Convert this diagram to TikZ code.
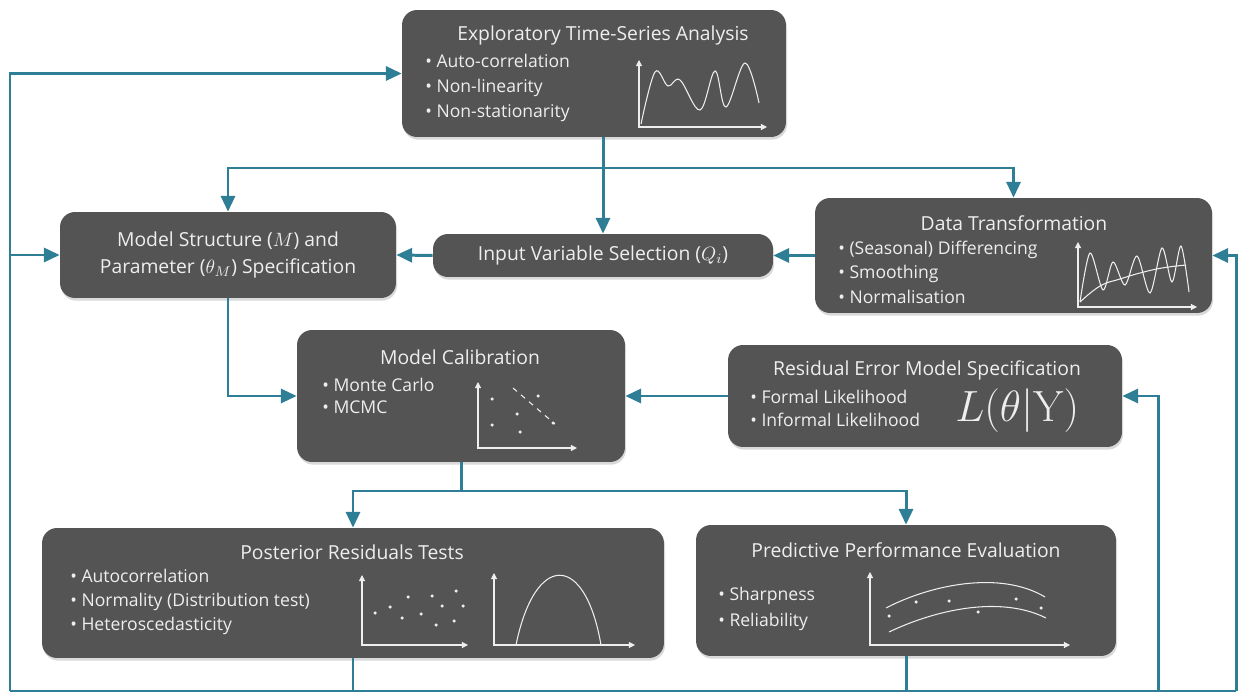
\documentclass[tikz,border=0pt]{standalone}
\usepackage[no-math]{fontspec}
\setmainfont{Open Sans}
\usetikzlibrary{arrows.meta,shadows}
\definecolor{boxgray}{RGB}{84,84,84}
\definecolor{flowteal}{RGB}{46,126,150}
\definecolor{inkwhite}{RGB}{238,238,238}
\tikzset{
  box/.style={fill=boxgray, rounded corners=0.3cm, inner sep=0pt,
    drop shadow={opacity=0.3, shadow xshift=0.6pt, shadow yshift=-1.5pt}},
  boxtext/.style={text=inkwhite, font=\fontsize{11}{15.5}\selectfont, inner sep=0pt},
  listtext/.style={text=inkwhite, font=\fontsize{10}{14}\selectfont, align=left, anchor=west, inner sep=0pt},
  flowline/.style={draw=flowteal, line width=1.7pt},
  ax/.style={draw=inkwhite, line width=0.6pt, {Triangle[length=3.5pt,width=3.5pt]}-{Triangle[length=3.5pt,width=3.5pt]}},
  curve/.style={draw=inkwhite, line width=0.6pt},
}
\begin{document}
\begin{tikzpicture}[x=0.02cm, y=-0.02cm, >={Triangle[length=9pt,width=8pt]}]
\useasboundingbox (0,0) rectangle (1246,695);

% boxes
\node[box, minimum width=7.68cm, minimum height=2.54cm] (explore) at (594,73.5) {};
\node[box, boxtext, align=center, minimum width=6.72cm, minimum height=1.72cm] (structure) at (228,255)
  {Model Structure ($M$) and\\Parameter ($\theta_M$) Specification};
\node[box, boxtext, minimum width=6.8cm, minimum height=0.86cm] (input) at (603,255.5)
  {Input Variable Selection ($Q_i$)};
\node[box, minimum width=7.94cm, minimum height=2.3cm] (transform) at (1013.5,255.5) {};
\node[box, minimum width=6.56cm, minimum height=2.64cm] (calib) at (461,396) {};
\node[box, minimum width=7.88cm, minimum height=2.04cm] (resid) at (925,396) {};
\node[box, minimum width=12.44cm, minimum height=2.6cm] (post) at (353,593) {};
\node[box, minimum width=8.4cm, minimum height=2.62cm] (pred) at (906,590.5) {};

% texts inside the boxes
\node[boxtext] (explore-title) at (603,35) {Exploratory Time-Series Analysis};
\node[listtext] (explore-list) at (425,88)
  {\textbullet\ Auto-correlation\\\textbullet\ Non-linearity\\\textbullet\ Non-stationarity};
\node[boxtext] (transform-title) at (1014,223) {Data Transformation};
\node[listtext] (transform-list) at (838,272)
  {\textbullet\ (Seasonal) Differencing\\\textbullet\ Smoothing\\\textbullet\ Normalisation};
\node[boxtext] (calib-title) at (460,357) {Model Calibration};
\node[listtext, font=\fontsize{10}{12.5}\selectfont] (calib-list) at (322,396)
  {\textbullet\ Monte Carlo\\\textbullet\ MCMC};
\node[boxtext] (resid-title) at (927,370) {Residual Error Model Specification};
\node[listtext, font=\fontsize{10}{13}\selectfont] (resid-list) at (750,408.5)
  {\textbullet\ Formal Likelihood\\\textbullet\ Informal Likelihood};
\node[listtext, font=\fontsize{26}{26}\selectfont] (resid-lik) at (955,411) {$L(\theta|\mathrm{Y})$};
\node[boxtext] (post-title) at (352,552) {Posterior Residuals Tests};
\node[listtext, font=\fontsize{10}{13.6}\selectfont] (post-list) at (70,602)
  {\textbullet\ Autocorrelation\\\textbullet\ Normality (Distribution test)\\\textbullet\ Heteroscedasticity};
\node[boxtext] (pred-title) at (906,550) {Predictive Performance Evaluation};
\node[listtext, font=\fontsize{10}{14.7}\selectfont] (pred-list) at (718,609)
  {\textbullet\ Sharpness\\\textbullet\ Reliability};

% small charts
\draw[ax] (639,60) -- (639,127) -- (767,127);
\draw[curve] plot[smooth, tension=0.6] coordinates {(641,124) (655,72) (668,86) (680,80) (700,110) (715,71) (726,107) (745,63) (759,103)};
\draw[ax] (1078,242) -- (1078,307) -- (1197,307);
\draw[curve] plot[smooth, tension=0.5] coordinates {(1080,302) (1090,253) (1103,290) (1113,262) (1125,285) (1137,256) (1150,293) (1162,248) (1172,282) (1181,246) (1189,292)};
\draw[curve] plot[smooth, tension=0.7] coordinates {(1080,302) (1100,286) (1120,279) (1140,273) (1162,268) (1186,265)};
\draw[ax] (478,382) -- (478,448) -- (577,448);
\draw[curve, dashed] (513,388) -- (555,424);
\foreach \p in {(492,399),(492,425),(517,414),(520,432),(538,396),(553,423)}
  \fill[inkwhite] \p circle(0.035cm);
\draw[ax] (362,575) -- (362,645) -- (468,645);
\foreach \p in {(375,613),(390,607),(408,597),(402,618),(421,614),(432,596),(442,606),(456,591),(463,606),(436,625),(454,621)}
  \fill[inkwhite] \p circle(0.035cm);
\draw[ax] (494,573) -- (494,645) -- (635,645);
\draw[curve] (516,645) .. controls (535,552) and (585,552) .. (601,645);
\draw[ax] (870,572) -- (870,645) -- (1070,645);
\draw[curve] (886,608) .. controls (930,585) and (1000,570) .. (1045,597);
\draw[curve] (889,632) .. controls (935,610) and (1000,595) .. (1046,618);
\foreach \p in {(889,616),(916,602),(949,601),(978,612),(1016,599),(1041,608)}
  \fill[inkwhite] \p circle(0.035cm);

% feedback loop
\coordinate (loopBL) at (10,691);
\coordinate (loopBR) at (1236,691);
\coordinate (loopRes) at (1158,691);
\coordinate (topbus) at (603,168);
\coordinate (calbus) at (461,491);
\draw[flowline] (loopBL) -- (loopBR);
\draw[flowline,->] (loopBL) |- (explore.west);
\draw[flowline,->] (loopBL |- structure.west) -- (structure.west);
\draw[flowline,->] (loopBR) |- (transform.east);
\draw[flowline,->] (loopRes) |- (resid.east);
\draw[flowline] (post.south) -- (post.south |- loopBL);
\draw[flowline] (pred.south) -- (pred.south |- loopBL);

% main flow
\draw[flowline,->] (input.north |- explore.south) -- (input.north);
\draw[flowline,<->] (structure.north) |- (topbus) -| (transform.north);
\draw[flowline,->] (transform.west) -- (input.east);
\draw[flowline,->] (input.west) -- (structure.east);
\draw[flowline,->] (structure.south) |- (calib.west);
\draw[flowline,->] (resid.west) -- (calib.east);
\draw[flowline] (calib.south) -- (calbus);
\draw[flowline,<->] (post.north) |- (calbus) -| (pred.north);
\end{tikzpicture}
\end{document}
